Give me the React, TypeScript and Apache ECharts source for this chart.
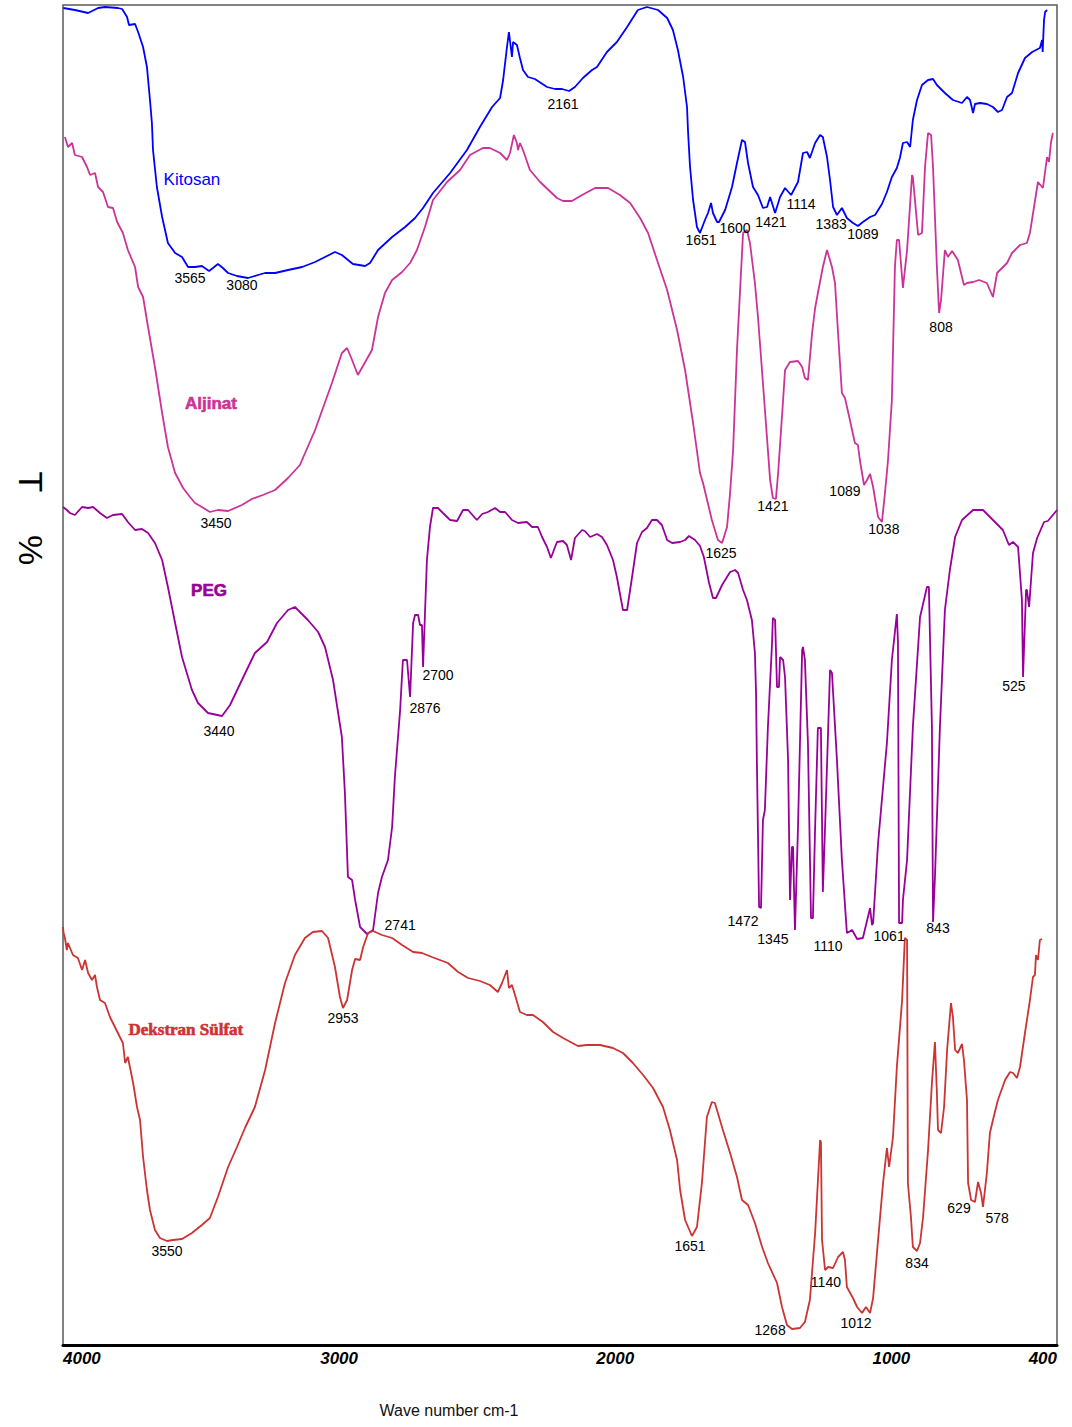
import React, { useEffect, useRef } from "react";
import * as echarts from "echarts";

type Pt = [number, number];
type Note = [string, number, number];

// Wavenumber (cm-1) tick values on the reversed x axis
const xTicks = [400, 1000, 2000, 3000, 4000];

// Stacked transmittance traces, [wavenumber, %T offset]
const kitosan: Pt[] = [
  [3999, 133.7], [3957, 133.5], [3909, 133.2], [3873, 133.7], [3848, 133.8], [3801, 133.7], [3786, 133.6],
  [3768, 132.8], [3761, 132.0], [3739, 132.1], [3728, 131.3], [3710, 129.8], [3696, 127.8], [3685, 124.5],
  [3678, 122.2], [3674, 119.5], [3660, 115.8], [3641, 112.8], [3620, 110.2], [3594, 109.2], [3569, 108.8],
  [3547, 107.8], [3522, 107.8], [3497, 107.9], [3471, 107.4], [3457, 107.7], [3439, 108.1], [3421, 107.7],
  [3402, 107.2], [3370, 106.9], [3330, 106.7], [3294, 107.0], [3268, 107.2], [3232, 107.2], [3185, 107.5],
  [3134, 107.8], [3087, 108.3], [3015, 109.3], [2990, 109.0], [2950, 108.1], [2906, 107.9], [2888, 108.2],
  [2859, 109.5], [2808, 110.8], [2761, 111.8], [2725, 112.7], [2696, 113.7], [2660, 115.2], [2598, 117.2],
  [2537, 119.5], [2490, 121.8], [2446, 123.8], [2417, 124.7], [2406, 126.5], [2392, 129.8], [2385, 131.3],
  [2374, 128.8], [2370, 130.3], [2356, 130.0], [2345, 128.7], [2334, 127.5], [2316, 126.8], [2291, 126.6],
  [2247, 125.8], [2218, 125.6], [2193, 125.6], [2167, 125.4], [2146, 125.8], [2117, 126.7], [2084, 127.5],
  [2066, 127.8], [2030, 129.3], [1994, 130.3], [1957, 131.8], [1918, 133.5], [1885, 133.8], [1845, 133.5],
  [1812, 132.7], [1791, 131.5], [1773, 129.5], [1754, 126.8], [1740, 123.8], [1736, 121.2], [1729, 117.8],
  [1718, 114.5], [1704, 111.8], [1693, 111.2], [1675, 112.5], [1664, 113.2], [1653, 114.2], [1646, 113.2],
  [1631, 112.3], [1624, 112.3], [1602, 113.5], [1577, 115.8], [1559, 118.2], [1541, 120.5], [1530, 120.3],
  [1519, 118.2], [1501, 115.8], [1483, 115.0], [1465, 113.7], [1450, 113.8], [1439, 114.8], [1421, 113.2],
  [1403, 114.8], [1385, 115.7], [1363, 115.0], [1338, 116.3], [1320, 119.2], [1305, 119.3], [1295, 118.7],
  [1276, 120.2], [1258, 121.0], [1248, 120.8], [1233, 118.8], [1222, 116.5], [1211, 113.8], [1197, 113.0],
  [1179, 113.7], [1161, 112.7], [1139, 112.2], [1121, 111.9], [1103, 112.3], [1077, 112.8], [1059, 113.0],
  [1034, 114.1], [1016, 115.3], [998, 116.8], [980, 117.7], [969, 118.7], [958, 120.2], [943, 120.3],
  [932, 119.8], [922, 122.5], [907, 124.5], [889, 126.0], [867, 126.5], [849, 126.6], [835, 126.0],
  [806, 125.2], [777, 124.5], [744, 124.2], [726, 124.8], [715, 124.5], [704, 123.2], [697, 124.1],
  [679, 124.2], [654, 124.1], [632, 123.8], [614, 123.3], [599, 123.5], [581, 124.8], [563, 125.2],
  [541, 127.2], [516, 128.7], [490, 129.3], [462, 129.7], [454, 130.5], [452, 129.3], [447, 132.5],
  [443, 133.3], [436, 133.5],
];

const aljinat: Pt[] = [
  [3993, 120.8], [3982, 119.8], [3967, 120.2], [3957, 119.0], [3931, 118.8], [3913, 117.8], [3902, 117.0],
  [3884, 117.2], [3873, 115.8], [3855, 115.3], [3837, 113.8], [3819, 113.7], [3804, 112.3], [3783, 111.2],
  [3765, 109.5], [3739, 107.8], [3728, 105.8], [3710, 104.8], [3692, 101.8], [3667, 97.8], [3641, 93.2],
  [3620, 89.8], [3594, 87.2], [3565, 85.7], [3540, 84.8], [3522, 84.2], [3497, 83.8], [3468, 83.3],
  [3439, 83.5], [3402, 83.4], [3352, 84.0], [3316, 84.6], [3276, 85.0], [3232, 85.5], [3185, 86.7],
  [3142, 88.0], [3087, 91.5], [3026, 96.2], [2990, 99.2], [2971, 99.7], [2953, 98.5], [2932, 97.0],
  [2881, 99.5], [2859, 102.8], [2834, 105.2], [2808, 106.5], [2772, 107.3], [2743, 108.2], [2718, 109.5],
  [2689, 111.8], [2660, 114.5], [2609, 116.3], [2562, 117.5], [2526, 119.0], [2479, 119.7], [2454, 119.7],
  [2417, 119.2], [2392, 118.5], [2381, 119.2], [2367, 121.0], [2356, 120.2], [2352, 119.5], [2345, 120.2],
  [2334, 119.5], [2309, 117.5], [2272, 116.3], [2211, 114.7], [2189, 114.4], [2157, 114.4], [2120, 115.0],
  [2073, 115.7], [2026, 115.7], [1983, 115.0], [1946, 114.2], [1910, 112.7], [1881, 111.2], [1845, 108.2],
  [1812, 105.5], [1776, 101.5], [1747, 97.5], [1718, 92.2], [1693, 87.2], [1682, 86.2], [1650, 82.5],
  [1628, 80.5], [1613, 80.2], [1595, 81.8], [1584, 85.2], [1573, 89.5], [1559, 99.5], [1537, 111.2],
  [1523, 111.5], [1512, 110.2], [1494, 106.2], [1483, 102.8], [1465, 96.2], [1439, 86.5], [1429, 84.7],
  [1418, 84.6], [1410, 87.2], [1392, 94.5], [1385, 97.5], [1367, 98.3], [1338, 98.4], [1323, 97.8],
  [1313, 96.7], [1302, 96.5], [1287, 101.2], [1276, 103.7], [1266, 105.2], [1248, 107.8], [1233, 109.5],
  [1215, 107.8], [1204, 106.2], [1193, 101.2], [1179, 95.2], [1168, 94.7], [1150, 92.5], [1132, 90.2],
  [1121, 90.0], [1114, 88.5], [1099, 86.0], [1088, 86.5], [1077, 87.1], [1066, 85.8], [1048, 82.8],
  [1034, 82.3], [1023, 85.2], [1012, 88.5], [998, 94.5], [987, 107.8], [980, 110.5], [972, 110.5],
  [958, 105.7], [943, 109.5], [925, 117.0], [922, 116.8], [903, 111.0], [889, 111.2], [878, 117.8],
  [867, 121.2], [856, 121.0], [849, 117.8], [835, 107.8], [827, 103.2], [820, 104.5], [806, 109.5],
  [795, 108.8], [780, 109.4], [759, 108.5], [737, 106.0], [726, 106.2], [704, 106.3], [682, 106.5],
  [654, 106.2], [632, 104.8], [617, 107.2], [581, 108.2], [563, 109.2], [534, 110.0], [509, 110.2],
  [498, 111.2], [469, 116.3], [451, 115.7], [436, 118.8], [429, 118.3], [422, 120.2], [415, 121.2],
];

const peg: Pt[] = [
  [4000, 83.8], [3986, 83.5], [3975, 83.2], [3957, 83.0], [3931, 83.8], [3909, 83.7], [3891, 83.8],
  [3866, 83.2], [3841, 82.7], [3819, 83.0], [3786, 83.1], [3765, 82.3], [3739, 81.5], [3714, 81.6],
  [3692, 81.2], [3667, 80.2], [3641, 78.5], [3620, 75.8], [3594, 72.2], [3569, 68.8], [3533, 65.5],
  [3511, 64.2], [3475, 63.2], [3424, 62.9], [3395, 64.0], [3352, 66.5], [3305, 69.2], [3261, 70.3],
  [3225, 72.2], [3185, 73.5], [3160, 73.8], [3113, 72.5], [3076, 71.3], [3051, 69.8], [3022, 66.5],
  [2990, 60.8], [2979, 55.2], [2968, 46.8], [2953, 46.5], [2942, 44.5], [2924, 41.8], [2899, 41.1],
  [2877, 41.5], [2859, 45.2], [2845, 46.8], [2823, 48.5], [2808, 51.8], [2798, 56.8], [2779, 63.5],
  [2769, 68.5], [2754, 68.5], [2743, 64.8], [2732, 72.2], [2725, 73.0], [2714, 73.0], [2707, 72.0],
  [2700, 72.0], [2696, 67.8], [2682, 78.5], [2671, 81.8], [2660, 83.7], [2642, 83.7], [2624, 83.2],
  [2598, 82.5], [2573, 82.4], [2551, 83.5], [2533, 83.5], [2501, 82.5], [2482, 83.1], [2461, 83.3],
  [2435, 83.7], [2417, 83.3], [2399, 83.3], [2374, 82.5], [2352, 82.2], [2320, 82.3], [2301, 81.8],
  [2280, 81.8], [2265, 80.8], [2247, 79.8], [2233, 78.7], [2211, 80.3], [2189, 80.4], [2175, 80.0],
  [2160, 78.5], [2146, 80.7], [2120, 81.5], [2110, 81.4], [2091, 80.8], [2066, 81.1], [2048, 80.8],
  [2030, 80.0], [2008, 78.5], [1994, 76.8], [1972, 73.5], [1957, 73.5], [1939, 76.8], [1921, 80.2],
  [1903, 81.3], [1885, 81.7], [1867, 82.5], [1849, 82.5], [1831, 82.0], [1812, 80.5], [1794, 80.2],
  [1765, 80.3], [1747, 80.5], [1733, 80.9], [1711, 80.5], [1693, 79.9], [1679, 78.8], [1660, 76.2],
  [1646, 74.7], [1635, 74.7], [1613, 76.0], [1584, 77.3], [1566, 77.5], [1555, 77.2], [1537, 75.5],
  [1523, 74.5], [1505, 72.5], [1494, 69.2], [1490, 65.2], [1487, 58.5], [1479, 43.8], [1472, 43.7],
  [1465, 52.5], [1458, 53.5], [1447, 61.8], [1432, 70.2], [1429, 72.7], [1421, 72.5], [1414, 65.8],
  [1407, 65.8], [1403, 68.8], [1392, 68.5], [1385, 66.8], [1374, 58.5], [1367, 44.5], [1360, 49.8],
  [1356, 49.8], [1349, 41.5], [1338, 51.8], [1323, 69.5], [1320, 69.8], [1313, 68.5], [1302, 60.2],
  [1291, 42.7], [1284, 42.7], [1276, 51.8], [1266, 61.7], [1255, 61.7], [1248, 45.3], [1240, 51.8],
  [1222, 67.5], [1215, 67.2], [1197, 58.5], [1179, 48.5], [1161, 41.2], [1142, 41.5], [1124, 40.6],
  [1103, 40.7], [1077, 43.7], [1070, 42.0], [1066, 42.2], [1048, 50.2], [1016, 60.2], [998, 68.5],
  [980, 73.1], [976, 70.3], [972, 42.2], [961, 42.2], [958, 44.5], [943, 48.5], [922, 61.8],
  [896, 72.8], [871, 75.8], [864, 75.8], [853, 61.8], [849, 42.3], [842, 46.8], [824, 61.8],
  [806, 73.5], [788, 77.5], [769, 80.8], [744, 82.5], [704, 83.5], [668, 83.5], [632, 82.5],
  [596, 81.5], [574, 80.0], [559, 80.3], [541, 79.8], [527, 74.5], [523, 66.8], [512, 75.5],
  [509, 75.5], [501, 73.8], [487, 79.2], [472, 80.7], [447, 82.3], [433, 82.4], [415, 83.0], [400, 83.5],
];

const dekstranSulfat: Pt[] = [
  [4000, 41.8], [3998, 41.2], [3993, 40.7], [3986, 39.5], [3982, 40.2], [3964, 39.0], [3946, 38.7],
  [3931, 37.5], [3920, 38.5], [3909, 37.2], [3895, 36.5], [3884, 37.0], [3877, 35.8], [3866, 34.5],
  [3848, 34.2], [3830, 32.8], [3812, 31.8], [3794, 30.8], [3783, 30.2], [3775, 28.2], [3765, 28.8],
  [3746, 26.2], [3732, 23.8], [3721, 22.5], [3710, 18.8], [3696, 15.5], [3685, 13.5], [3667, 11.5],
  [3649, 10.7], [3623, 10.4], [3602, 10.5], [3569, 10.6], [3533, 11.2], [3497, 12.0], [3468, 12.7],
  [3439, 14.8], [3402, 17.8], [3370, 19.8], [3341, 21.7], [3305, 23.8], [3268, 27.5], [3232, 32.2],
  [3196, 36.2], [3160, 39.0], [3124, 40.7], [3095, 41.3], [3062, 41.4], [3040, 40.7], [3015, 37.8],
  [2997, 34.8], [2986, 33.7], [2971, 34.5], [2953, 37.5], [2942, 38.6], [2924, 38.5], [2913, 39.8],
  [2895, 41.2], [2877, 41.4], [2845, 41.0], [2808, 40.7], [2772, 40.0], [2732, 39.3], [2700, 39.2],
  [2664, 38.8], [2635, 38.5], [2606, 38.2], [2569, 37.3], [2533, 36.7], [2490, 36.4], [2454, 36.0],
  [2425, 35.3], [2410, 36.2], [2392, 37.5], [2385, 35.7], [2374, 36.0], [2363, 35.0], [2345, 33.3],
  [2320, 33.0], [2298, 33.0], [2262, 32.3], [2225, 31.3], [2189, 30.7], [2135, 29.9], [2102, 30.0],
  [2055, 30.0], [2008, 29.7], [1972, 29.2], [1936, 28.2], [1899, 27.0], [1863, 25.7], [1827, 23.8],
  [1802, 21.5], [1776, 18.5], [1765, 15.5], [1747, 12.5], [1722, 10.9], [1704, 11.8], [1686, 16.2],
  [1668, 22.8], [1650, 24.3], [1639, 24.2], [1610, 21.5], [1584, 19.2], [1559, 16.8], [1541, 14.5],
  [1519, 14.0], [1494, 12.2], [1468, 9.8], [1447, 8.2], [1414, 6.2], [1396, 3.8], [1378, 2.0],
  [1360, 1.6], [1331, 1.7], [1313, 2.3], [1295, 4.5], [1276, 11.2], [1258, 20.5], [1255, 20.3],
  [1251, 10.5], [1240, 7.5], [1229, 7.8], [1211, 7.7], [1193, 8.8], [1175, 9.3], [1168, 8.5],
  [1161, 5.8], [1139, 4.7], [1124, 3.8], [1106, 3.2], [1092, 3.8], [1077, 3.2], [1066, 4.7],
  [1048, 10.5], [1030, 16.2], [1016, 19.7], [1008, 17.8], [994, 20.8], [980, 27.8], [961, 34.5],
  [951, 40.7], [943, 40.5], [940, 16.2], [929, 12.8], [922, 9.8], [907, 9.4], [896, 10.2],
  [885, 12.8], [867, 19.5], [853, 26.2], [842, 30.3], [835, 25.2], [831, 21.5], [820, 21.2],
  [809, 23.8], [798, 29.5], [784, 34.2], [777, 32.8], [769, 29.5], [759, 29.2], [744, 30.1],
  [737, 28.5], [726, 24.5], [722, 16.2], [711, 14.5], [697, 14.3], [686, 16.3], [675, 15.2],
  [668, 13.8], [654, 17.2], [643, 21.2], [632, 22.5], [614, 24.5], [588, 26.5], [570, 27.3],
  [559, 27.2], [545, 26.7], [534, 27.8], [516, 31.2], [498, 34.5], [487, 36.8], [480, 37.0],
  [476, 39.0], [469, 38.5], [462, 40.5], [454, 40.6],
];

// Band annotations: [text, wavenumber position, %T position]
const kitosanPeaks: Note[] = [
  ["3565", 3540, 106.7], ["3080", 3352, 106.0], ["2161", 2189, 124.1], ["1651", 1689, 110.5],
  ["1600", 1566, 111.7], ["1421", 1436, 112.3], ["1114", 1327, 114.1], ["1383", 1218, 112.1],
  ["1089", 1103, 111.1],
];
const aljinatPeaks: Note[] = [
  ["3450", 3446, 82.2], ["1625", 1617, 79.2], ["1421", 1429, 83.9], ["1089", 1168, 85.4],
  ["1038", 1027, 81.6], ["808", 820, 101.8],
];
const pegPeaks: Note[] = [
  ["3440", 3435, 61.4], ["2876", 2689, 63.7], ["2700", 2642, 67.0], ["2741", 2779, 42.0],
  ["1472", 1537, 42.4], ["1345", 1429, 40.6], ["1110", 1229, 39.9], ["1061", 1008, 40.9],
  ["843", 831, 41.7], ["525", 556, 65.9],
];
const dekstranPeaks: Note[] = [
  ["3550", 3623, 9.4], ["2953", 2986, 32.7], ["1651", 1729, 9.9], ["1268", 1439, 1.5],
  ["1140", 1237, 6.3], ["1012", 1128, 2.2], ["834", 907, 8.2], ["629", 755, 13.7], ["578", 617, 12.7],
];

// Trace names, placed beside each trace
const traceTitles: Note[] = [
  ["Kitosan", 3533, 116.6],
  ["Aljinat", 3464, 94.2],
  ["PEG", 3471, 75.5],
  ["Dekstran Sülfat", 3555, 31.6],
];

const SANS = '"Liberation Sans", Arial, Helvetica, sans-serif';
const SERIF = '"Liberation Serif", "Times New Roman", serif';

const traces = [
  { name: "Kitosan", data: kitosan, peaks: kitosanPeaks, color: "#0000ff", weight: "normal", family: SANS, border: 0 },
  { name: "Aljinat", data: aljinat, peaks: aljinatPeaks, color: "#cc3399", weight: "bold", family: SANS, border: 0.6 },
  { name: "PEG", data: peg, peaks: pegPeaks, color: "#990099", weight: "bold", family: SANS, border: 0.6 },
  { name: "Dekstran Sülfat", data: dekstranSulfat, peaks: dekstranPeaks, color: "#cc3333", weight: "bold", family: SERIF, border: 0.6 },
];

function buildOption() {
  const series: any[] = [];
  traces.forEach((t) => {
    series.push({
      type: "line",
      name: t.name,
      data: t.data,
      showSymbol: false,
      symbol: "none",
      silent: true,
      lineStyle: { color: t.color, width: 1.8 },
      itemStyle: { color: t.color },
      z: 2,
    });
    series.push({
      type: "scatter",
      name: t.name + " bands",
      data: t.peaks.map(([text, x, y]) => ({ name: text, value: [x, y] })),
      symbolSize: 1,
      silent: true,
      itemStyle: { color: "rgba(0,0,0,0)" },
      label: {
        show: true,
        position: "inside",
        formatter: "{b}",
        color: "#000000",
        opacity: 1,
        textBorderWidth: 0,
        fontSize: 14,
        fontFamily: SANS,
      },
      z: 5,
    });
    const title = traceTitles.find((tt) => tt[0] === t.name)!;
    series.push({
      type: "scatter",
      name: t.name + " title",
      data: [{ name: title[0], value: [title[1], title[2]] }],
      symbolSize: 1,
      silent: true,
      itemStyle: { color: "rgba(0,0,0,0)" },
      label: {
        show: true,
        position: "inside",
        formatter: "{b}",
        color: t.color,
        opacity: 1,
        textBorderColor: t.color,
        textBorderWidth: t.border,
        fontSize: 17,
        fontWeight: t.weight,
        fontFamily: t.family,
      },
      z: 6,
    });
  });

  return {
    animation: false,
    backgroundColor: "#ffffff",
    grid: {
      left: 63,
      right: 15,
      top: 5,
      bottom: 82,
      show: true,
      borderColor: "#5a5a5a",
      borderWidth: 1.5,
      outerBoundsMode: "none",
    },
    xAxis: {
      type: "value",
      min: 400,
      max: 4000,
      inverse: true,
      axisLine: { show: true, onZero: false, lineStyle: { color: "#000", width: 3 } },
      axisTick: { show: false },
      splitLine: { show: false },
      axisLabel: {
        customValues: xTicks,
        formatter: (v: number) => String(v),
        color: "#000",
        fontFamily: SANS,
        fontSize: 17,
        fontWeight: "bold",
        fontStyle: "italic",
        margin: 5,
        alignMinLabel: "right",
        alignMaxLabel: "left",
        showMinLabel: true,
        showMaxLabel: true,
      },
    },
    yAxis: {
      type: "value",
      min: 0,
      max: 134,
      axisLine: { show: false },
      axisTick: { show: false },
      axisLabel: { show: false },
      splitLine: { show: false },
    },
    graphic: [
      {
        type: "text",
        x: 449,
        y: 1410,
        silent: true,
        style: {
          text: "Wave number cm-1",
          fill: "#111",
          font: `16px ${SANS}`,
          textAlign: "center",
          textVerticalAlign: "middle",
        },
      },
      {
        type: "text",
        x: 31,
        y: 482,
        rotation: -Math.PI / 2,
        silent: true,
        style: {
          text: "T",
          fill: "#000",
          font: `34px ${SANS}`,
          textAlign: "center",
          textVerticalAlign: "middle",
        },
      },
      {
        type: "text",
        x: 31,
        y: 550,
        rotation: -Math.PI / 2,
        silent: true,
        style: {
          text: "%",
          fill: "#000",
          font: `34px ${SANS}`,
          textAlign: "center",
          textVerticalAlign: "middle",
        },
      },
    ],
    series,
  };
}

export default function App() {
  const ref = useRef<HTMLDivElement>(null);

  useEffect(() => {
    document.body.style.margin = "0";
    if (!ref.current) return;
    const chart = echarts.init(ref.current, null, { renderer: "svg" });
    chart.setOption(buildOption() as any);
    return () => {
      chart.dispose();
    };
  }, []);

  return <div ref={ref} style={{ width: 1072, height: 1427, background: "#fff" }} />;
}
